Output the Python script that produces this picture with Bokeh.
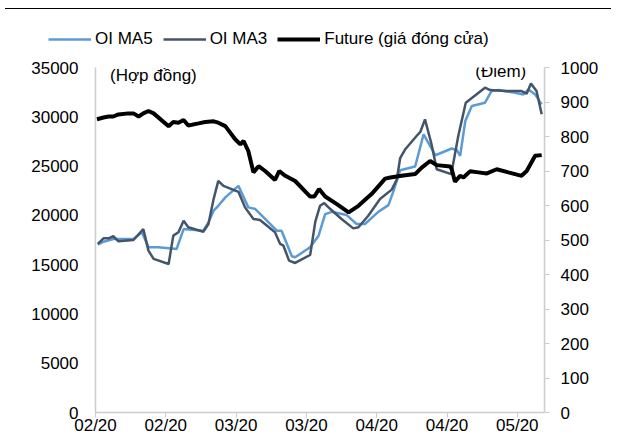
from bokeh.plotting import figure
from bokeh.models import Range1d, LinearAxis, Legend, LegendItem, Label, FixedTicker, Div
from bokeh.layouts import column
from bokeh.embed import file_html
from bokeh.resources import INLINE

FONT = "Liberation Sans"

# x axis: days since first date; ticks every 15 days
tick_days = [0, 15, 30, 45, 60, 75, 90]
tick_labels = ["02/20", "02/20", "03/20", "03/20", "04/20", "04/20", "05/20"]

future_day = [0.3, 1.7, 2.8, 3.8, 4.9, 7.0, 8.1, 9.2, 10.2, 11.3, 12.4, 15.6, 16.6, 17.7, 18.8,
              19.8, 22.0, 23.4, 25.2, 26.2, 27.7, 29.8, 30.9, 31.6, 32.6, 33.7, 34.8, 36.2, 38.3,
              39.2, 40.5, 42.6, 45.8, 46.7, 47.7, 49.0, 51.5, 54.0, 56.1, 58.9, 61.8, 62.9, 65.3,
              68.2, 69.6, 71.4, 72.8, 75.7, 76.0, 76.7, 77.8, 78.5, 79.9, 81.7, 83.5, 85.6, 88.1,
              90.9, 92.0, 93.8, 95.2]
future_val = [850, 855, 858, 858, 864, 867, 867, 858, 867, 874, 867, 830, 842, 840, 848,
              832, 838, 842, 844, 840, 830, 792, 777, 787, 758, 696, 714, 700, 674,
              700, 686, 671, 626, 626, 648, 626, 604, 580, 599, 633, 678, 681, 686,
              691, 710, 729, 717, 713, 705, 669, 686, 681, 699, 696, 693, 705, 696,
              686, 700, 744, 746]

ma3_day = [0.5, 1.7, 2.8, 3.8, 4.9, 8.1, 10.2, 11.3, 12.4, 15.6, 16.6, 17.7, 18.8, 19.8,
           23.0, 24.1, 25.2, 26.2, 27.3, 30.5, 31.9, 33.7, 35.1, 38.3, 39.4, 40.1, 41.3,
           42.6, 45.8, 46.9, 47.9, 48.8, 50.1, 52.5, 55.0, 56.1, 58.2, 60.7, 63.2, 64.3,
           65.0, 66.1, 68.5, 69.3, 70.3, 71.7, 72.8, 75.9, 77.4, 79.0, 83.1, 84.2, 87.4,
           90.9, 92.0, 92.9, 94.1, 95.2]
ma3_val = [17100, 17670, 17670, 17880, 17370, 17500, 18610, 16420, 15580, 15070, 17940, 18280, 19450, 18790,
           18340, 19120, 21650, 23500, 22990, 22390, 20810, 19630, 19520, 18280, 17100, 16920, 15410,
           15170, 15980, 19370, 20970, 21240, 20640, 19630, 18680, 18790, 19960, 21650, 22610, 23670,
           25800, 26710, 28050, 28460, 29740, 27210, 24680, 24180, 28050, 31430, 32950, 32710, 32610,
           32610, 32340, 33380, 32610, 30250]

ma5_day = [0.5, 1.7, 3.8, 8.1, 9.9, 11.3, 13.4, 17.3, 18.8, 23.0, 24.1, 25.2, 26.2, 27.7,
           30.5, 32.6, 34.1, 38.7, 39.7, 41.9, 42.6, 45.8, 47.6, 49.0, 50.4, 53.6, 55.7,
           57.5, 60.4, 62.5, 63.6, 65.0, 68.2, 70.0, 72.5, 74.2, 76.0, 77.1, 77.8, 78.9,
           80.3, 83.1, 84.5, 86.0, 88.8, 91.3, 92.4, 93.8, 95.2]
ma5_val = [17030, 17330, 17600, 17600, 18280, 16760, 16760, 16590, 18610, 18440, 19290, 20470, 20970, 21820,
           22990, 20810, 20640, 18440, 18440, 15850, 15750, 16760, 17940, 20130, 20360, 20030, 19120,
           19120, 20380, 21040, 22490, 24580, 24960, 28220, 26100, 26430, 26780, 26610, 26030, 29570,
           31090, 31430, 32610, 32710, 32500, 32270, 32780, 32270, 31260]

series_names = ["OI MA5", "OI MA3", "Future (giá đóng cửa)"]
series_colors = ["#5B9BD5", "#44546A", "#000000"]
series_widths = [2.5, 2.5, 4]

left_ticks = [0, 5000, 10000, 15000, 20000, 25000, 30000, 35000]
right_ticks = [0, 100, 200, 300, 400, 500, 600, 700, 800, 900, 1000]

# ---------------- main chart ----------------
p = figure(width=606, height=380, output_backend="svg", toolbar_location=None,
           x_range=Range1d(0, 95.8), y_range=Range1d(0, 35000),
           min_border_left=95, min_border_right=62, min_border_top=10, min_border_bottom=10)
p.frame_align = False
p.extra_y_ranges = {"pts": Range1d(0, 1000)}
p.xgrid.visible = False
p.ygrid.visible = False
p.outline_line_color = None

AX = "#CCCCCC"

xa = p.xaxis[0]
xa.ticker = FixedTicker(ticks=tick_days)
xa.major_label_overrides = {d: l for d, l in zip(tick_days, tick_labels)}
xa.axis_line_color = AX
xa.axis_line_width = 1.5
xa.major_tick_line_color = AX
xa.major_tick_in = 0
xa.major_tick_out = 5
xa.minor_tick_line_color = None
xa.major_label_standoff = -2
xa.major_label_text_font = FONT
xa.major_label_text_font_size = "17px"
xa.major_label_text_color = "#000000"

ya = p.yaxis[0]
ya.ticker = FixedTicker(ticks=left_ticks)
ya.axis_line_color = AX
ya.axis_line_width = 1.5
ya.major_tick_line_color = None
ya.major_tick_in = 0
ya.major_tick_out = 0
ya.minor_tick_line_color = None
ya.major_label_standoff = 17
ya.major_label_text_font = FONT
ya.major_label_text_font_size = "17px"
ya.major_label_text_color = "#000000"

ra = LinearAxis(y_range_name="pts", ticker=FixedTicker(ticks=right_ticks))
ra.axis_line_color = AX
ra.axis_line_width = 1.5
ra.major_tick_line_color = AX
ra.major_tick_in = 0
ra.major_tick_out = 5
ra.minor_tick_line_color = None
ra.major_label_standoff = 11
ra.major_label_text_font = FONT
ra.major_label_text_font_size = "17px"
ra.major_label_text_color = "#000000"
p.add_layout(ra, "right")

p.line(ma5_day, ma5_val, line_color=series_colors[0], line_width=series_widths[0])
p.line(ma3_day, ma3_val, line_color=series_colors[1], line_width=series_widths[1])
p.line(future_day, future_val, line_color=series_colors[2], line_width=series_widths[2],
       y_range_name="pts")

p.add_layout(Label(x=3.1, y=34200, text="(Hợp đồng)", text_baseline="middle",
                   text_font=FONT, text_font_size="17px", text_color="#000000"))
p.add_layout(Label(x=91.9, y=34600, text="(Điểm)", text_baseline="middle", text_align="right",
                   text_font=FONT, text_font_size="17px", text_color="#000000"))

# ---------------- legend strip ----------------
lg = figure(width=606, height=43, output_backend="svg", toolbar_location=None,
            x_range=Range1d(0, 1), y_range=Range1d(0, 1),
            x_axis_location=None, y_axis_location=None,
            min_border_left=0, min_border_right=0, min_border_top=0, min_border_bottom=0)
lg.frame_align = False
lg.xgrid.visible = False
lg.ygrid.visible = False
lg.outline_line_color = None
items = []
for name, col, w in zip(series_names, series_colors, series_widths):
    r = lg.line(x=[float("nan")], y=[float("nan")], line_color=col, line_width=w)
    items.append(LegendItem(label=name, renderers=[r]))
legend = Legend(items=items, orientation="horizontal", location=(48, 8),
                glyph_width=43, glyph_height=20, label_standoff=4, spacing=10,
                padding=0, margin=0, border_line_color=None, background_fill_alpha=0,
                label_text_font=FONT, label_text_font_size="17px", label_text_color="#000000")
lg.add_layout(legend, "center")

top_rule = Div(text="", width=606, height=4, styles={"border-bottom": "1px solid #000"})

layout = column(top_rule, lg, p)
open("out.html", "w").write(file_html(layout, INLINE))
